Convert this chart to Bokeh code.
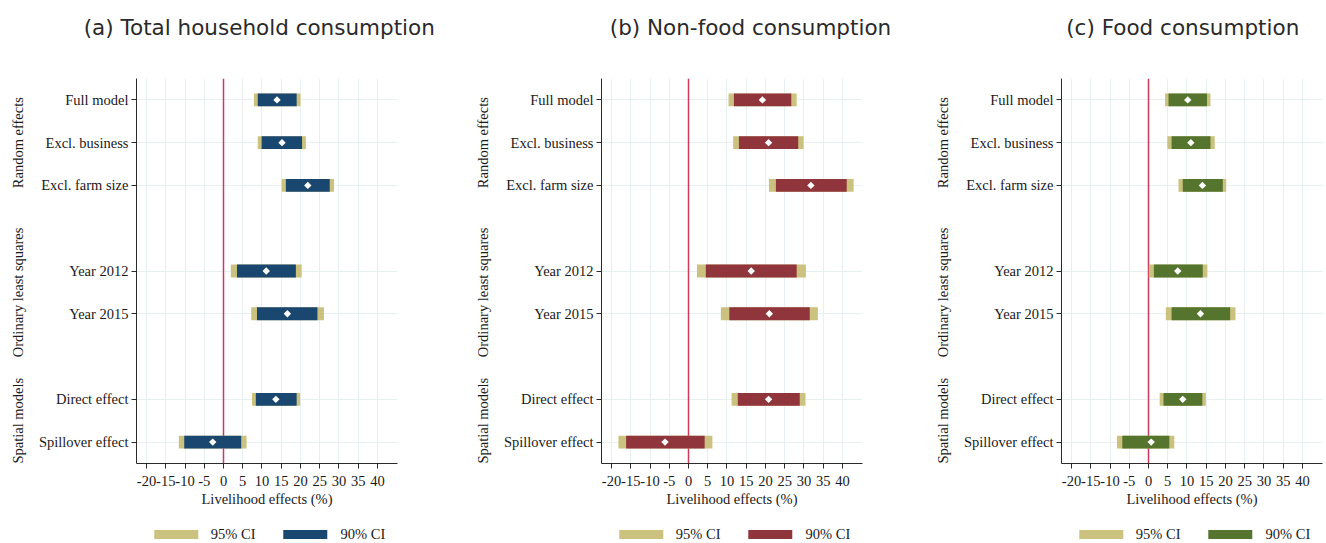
import math
from bokeh.plotting import figure
from bokeh.models import (FixedTicker, Legend, LegendItem, Range1d, Span,
                          ColumnDataSource, LinearAxis)
from bokeh.layouts import row, column
from bokeh.embed import file_html
from bokeh.resources import INLINE

# ---------------- data ----------------
models = ["Full model", "Excl. business", "Excl. farm size", "Year 2012",
          "Year 2015", "Direct effect", "Spillover effect"]
model_pos = [1, 2, 3, 5, 6, 8, 9]
groups = ["Random effects", "Ordinary least squares", "Spatial models"]
group_pos = [2, 5.5, 8.5]
x_ticks = [-20, -15, -10, -5, 0, 5, 10, 15, 20, 25, 30, 35, 40]
x_tick_labels = ["-20", "-15", "-10", "-5", "0", "5", "10", "15", "20", "25",
                 "30", "35", "40"]
legend_labels = ["95% CI", "90% CI"]

titles = ["(a) Total household consumption", "(b) Non-food consumption",
          "(c) Food consumption"]

est_a = [13.9, 15.2, 21.9, 11.1, 16.6, 13.6, -2.8]
lo90_a = [8.9, 9.9, 16.2, 3.5, 8.7, 8.4, -10.2]
hi90_a = [19.0, 20.4, 27.6, 18.8, 24.4, 19.0, 4.6]
lo95_a = [7.9, 8.9, 15.1, 1.9, 7.2, 7.4, -11.6]
hi95_a = [20.0, 21.4, 28.7, 20.3, 26.1, 19.9, 6.0]

est_b = [19.2, 20.8, 31.8, 16.3, 21.0, 20.8, -6.1]
lo90_b = [11.8, 13.1, 22.7, 4.5, 10.6, 12.8, -16.2]
hi90_b = [26.7, 28.5, 41.1, 28.1, 31.5, 28.9, 4.2]
lo95_b = [10.4, 11.6, 20.9, 2.2, 8.4, 11.2, -18.2]
hi95_b = [28.1, 29.9, 42.9, 30.5, 33.6, 30.4, 6.2]

est_c = [10.2, 11.0, 14.0, 7.6, 13.5, 8.9, 0.7]
lo90_c = [5.2, 6.0, 8.9, 1.4, 6.0, 3.9, -6.8]
hi90_c = [15.2, 16.1, 19.3, 14.1, 21.2, 14.0, 5.4]
lo95_c = [4.3, 4.9, 7.8, 0.1, 4.5, 2.9, -8.2]
hi95_c = [16.1, 17.2, 20.2, 15.3, 22.6, 14.9, 6.7]

# ---------------- style ----------------
KHAKI = "#cac27e"
colors = ["#1a476f", "#90353b", "#55752f"]
SERIF = "'Liberation Serif'"
FS = "14.5px"
GRID = "#e7eff0"
AXIS = "#2b2b2b"
TXT = "#1a1a1a"
LEFT = 136
FW = 261
FH = 385
TOP_H = 78
BOT_H = 62
LEG_H = 18

# title anchor (centre, in axis units) is a layout choice, kept with the panel style
panels = [
    dict(title=titles[0], est=est_a, lo90=lo90_a, hi90=hi90_a, lo95=lo95_a, hi95=hi95_a,
         color=colors[0], right=68, title_at=9.3),
    dict(title=titles[1], est=est_b, lo90=lo90_b, hi90=hi90_b, lo95=lo95_b, hi95=hi95_b,
         color=colors[1], right=63, title_at=16.1),
    dict(title=titles[2], est=est_c, lo90=lo90_c, hi90=hi90_c, lo95=lo95_c, hi95=hi95_c,
         color=colors[2], right=3, title_at=8.9),
]


def bare_axis(**kw):
    return LinearAxis(axis_line_color=None, major_tick_line_color=None,
                      minor_tick_line_color=None, **kw)


cols = []
for pan in panels:
    W = LEFT + FW + pan["right"]

    # ---- main panel ----
    src = ColumnDataSource(dict(y=model_pos, est=pan["est"], lo90=pan["lo90"],
                                hi90=pan["hi90"], lo95=pan["lo95"], hi95=pan["hi95"]))
    p = figure(frame_width=FW, frame_height=FH, min_border_left=LEFT,
               min_border_right=pan["right"], min_border_top=TOP_H,
               min_border_bottom=BOT_H,
               x_range=Range1d(-22.6, 45.2), y_range=Range1d(9.5, 0.5),
               output_backend="svg", toolbar_location=None)
    p.outline_line_color = None
    p.background_fill_color = "white"
    p.border_fill_color = "white"

    p.xgrid.ticker = FixedTicker(ticks=x_ticks)
    p.xgrid.grid_line_color = GRID
    p.ygrid.grid_line_color = GRID

    p.add_layout(Span(location=0, dimension="height", line_color="#cf3a5c",
                      line_width=1.5, level="underlay"))

    p.hbar(y="y", left="lo95", right="hi95", height=0.30, source=src,
           fill_color=KHAKI, line_color=None)
    p.hbar(y="y", left="lo90", right="hi90", height=0.30, source=src,
           fill_color=pan["color"], line_color=None)
    p.scatter(x="est", y="y", source=src, marker="square", angle=math.pi / 4,
              size=5.2, fill_color="white", line_color=None)

    p.xaxis.ticker = FixedTicker(ticks=x_ticks)
    p.xaxis.major_label_overrides = {k: v for k, v in zip(x_ticks, x_tick_labels)}
    p.yaxis.ticker = FixedTicker(ticks=model_pos)
    p.yaxis.major_label_overrides = {k: v for k, v in zip(model_pos, models)}
    for ax in (p.xaxis[0], p.yaxis[0]):
        ax.axis_line_color = AXIS
        ax.major_tick_line_color = AXIS
        ax.major_tick_out = 5
        ax.major_tick_in = 0
        ax.minor_tick_line_color = None
        ax.major_label_text_font = SERIF
        ax.major_label_text_font_size = FS
        ax.major_label_text_color = TXT
    p.yaxis.major_label_standoff = 3
    p.xaxis.major_label_standoff = 7
    p.xaxis.axis_label = "Livelihood effects (%)"
    p.xaxis.axis_label_text_font = SERIF
    p.xaxis.axis_label_text_font_size = FS
    p.xaxis.axis_label_text_font_style = "normal"
    p.xaxis.axis_label_text_color = TXT
    p.xaxis.axis_label_standoff = 2

    # group labels (outer left axis)
    gax = bare_axis(ticker=FixedTicker(ticks=group_pos),
                    major_label_overrides={k: v for k, v in zip(group_pos, groups)},
                    major_label_orientation="parallel", major_label_standoff=3,
                    major_label_text_font=SERIF, major_label_text_font_size=FS,
                    major_label_text_color=TXT)
    p.add_layout(gax, "left")

    # panel title (top axis carrying a single label)
    tax = bare_axis(ticker=FixedTicker(ticks=[pan["title_at"]]),
                    major_label_overrides={pan["title_at"]: pan["title"]},
                    major_label_standoff=33,
                    major_label_text_font="'DejaVu Sans'",
                    major_label_text_font_size="21.5px",
                    major_label_text_color="#2a2a2a")
    p.add_layout(tax, "above")

    # ---- legend strip ----
    lg = figure(width=W, height=LEG_H, min_border_left=LEFT, min_border_right=pan["right"],
                min_border_top=0, min_border_bottom=0, x_range=Range1d(0, 1),
                y_range=Range1d(100, 101), x_axis_location=None, y_axis_location=None,
                output_backend="svg", toolbar_location=None)
    lg.outline_line_color = None
    lg.xgrid.visible = False
    lg.ygrid.visible = False
    lg.border_fill_color = "white"
    lsrc = ColumnDataSource(dict(y=model_pos, lo95=pan["lo95"], hi95=pan["hi95"],
                                 lo90=pan["lo90"], hi90=pan["hi90"]))
    g95 = lg.hbar(y="y", left="lo95", right="hi95", height=0.3, source=lsrc,
                  fill_color=KHAKI, line_color=None)
    g90 = lg.hbar(y="y", left="lo90", right="hi90", height=0.3, source=lsrc,
                  fill_color=pan["color"], line_color=None)
    legend = Legend(items=[LegendItem(label=legend_labels[0], renderers=[g95]),
                           LegendItem(label=legend_labels[1], renderers=[g90])],
                    orientation="horizontal", location="center",
                    glyph_width=55, glyph_height=11, label_standoff=8, spacing=22,
                    padding=0, margin=0, border_line_color=None,
                    background_fill_alpha=0, label_height=11,
                    label_text_font=SERIF, label_text_font_size=FS,
                    label_text_color=TXT)
    lg.add_layout(legend, "center")

    cols.append(column(p, lg, spacing=0))

layout = row(*cols, spacing=0)
open("out.html", "w").write(file_html(layout, INLINE))
